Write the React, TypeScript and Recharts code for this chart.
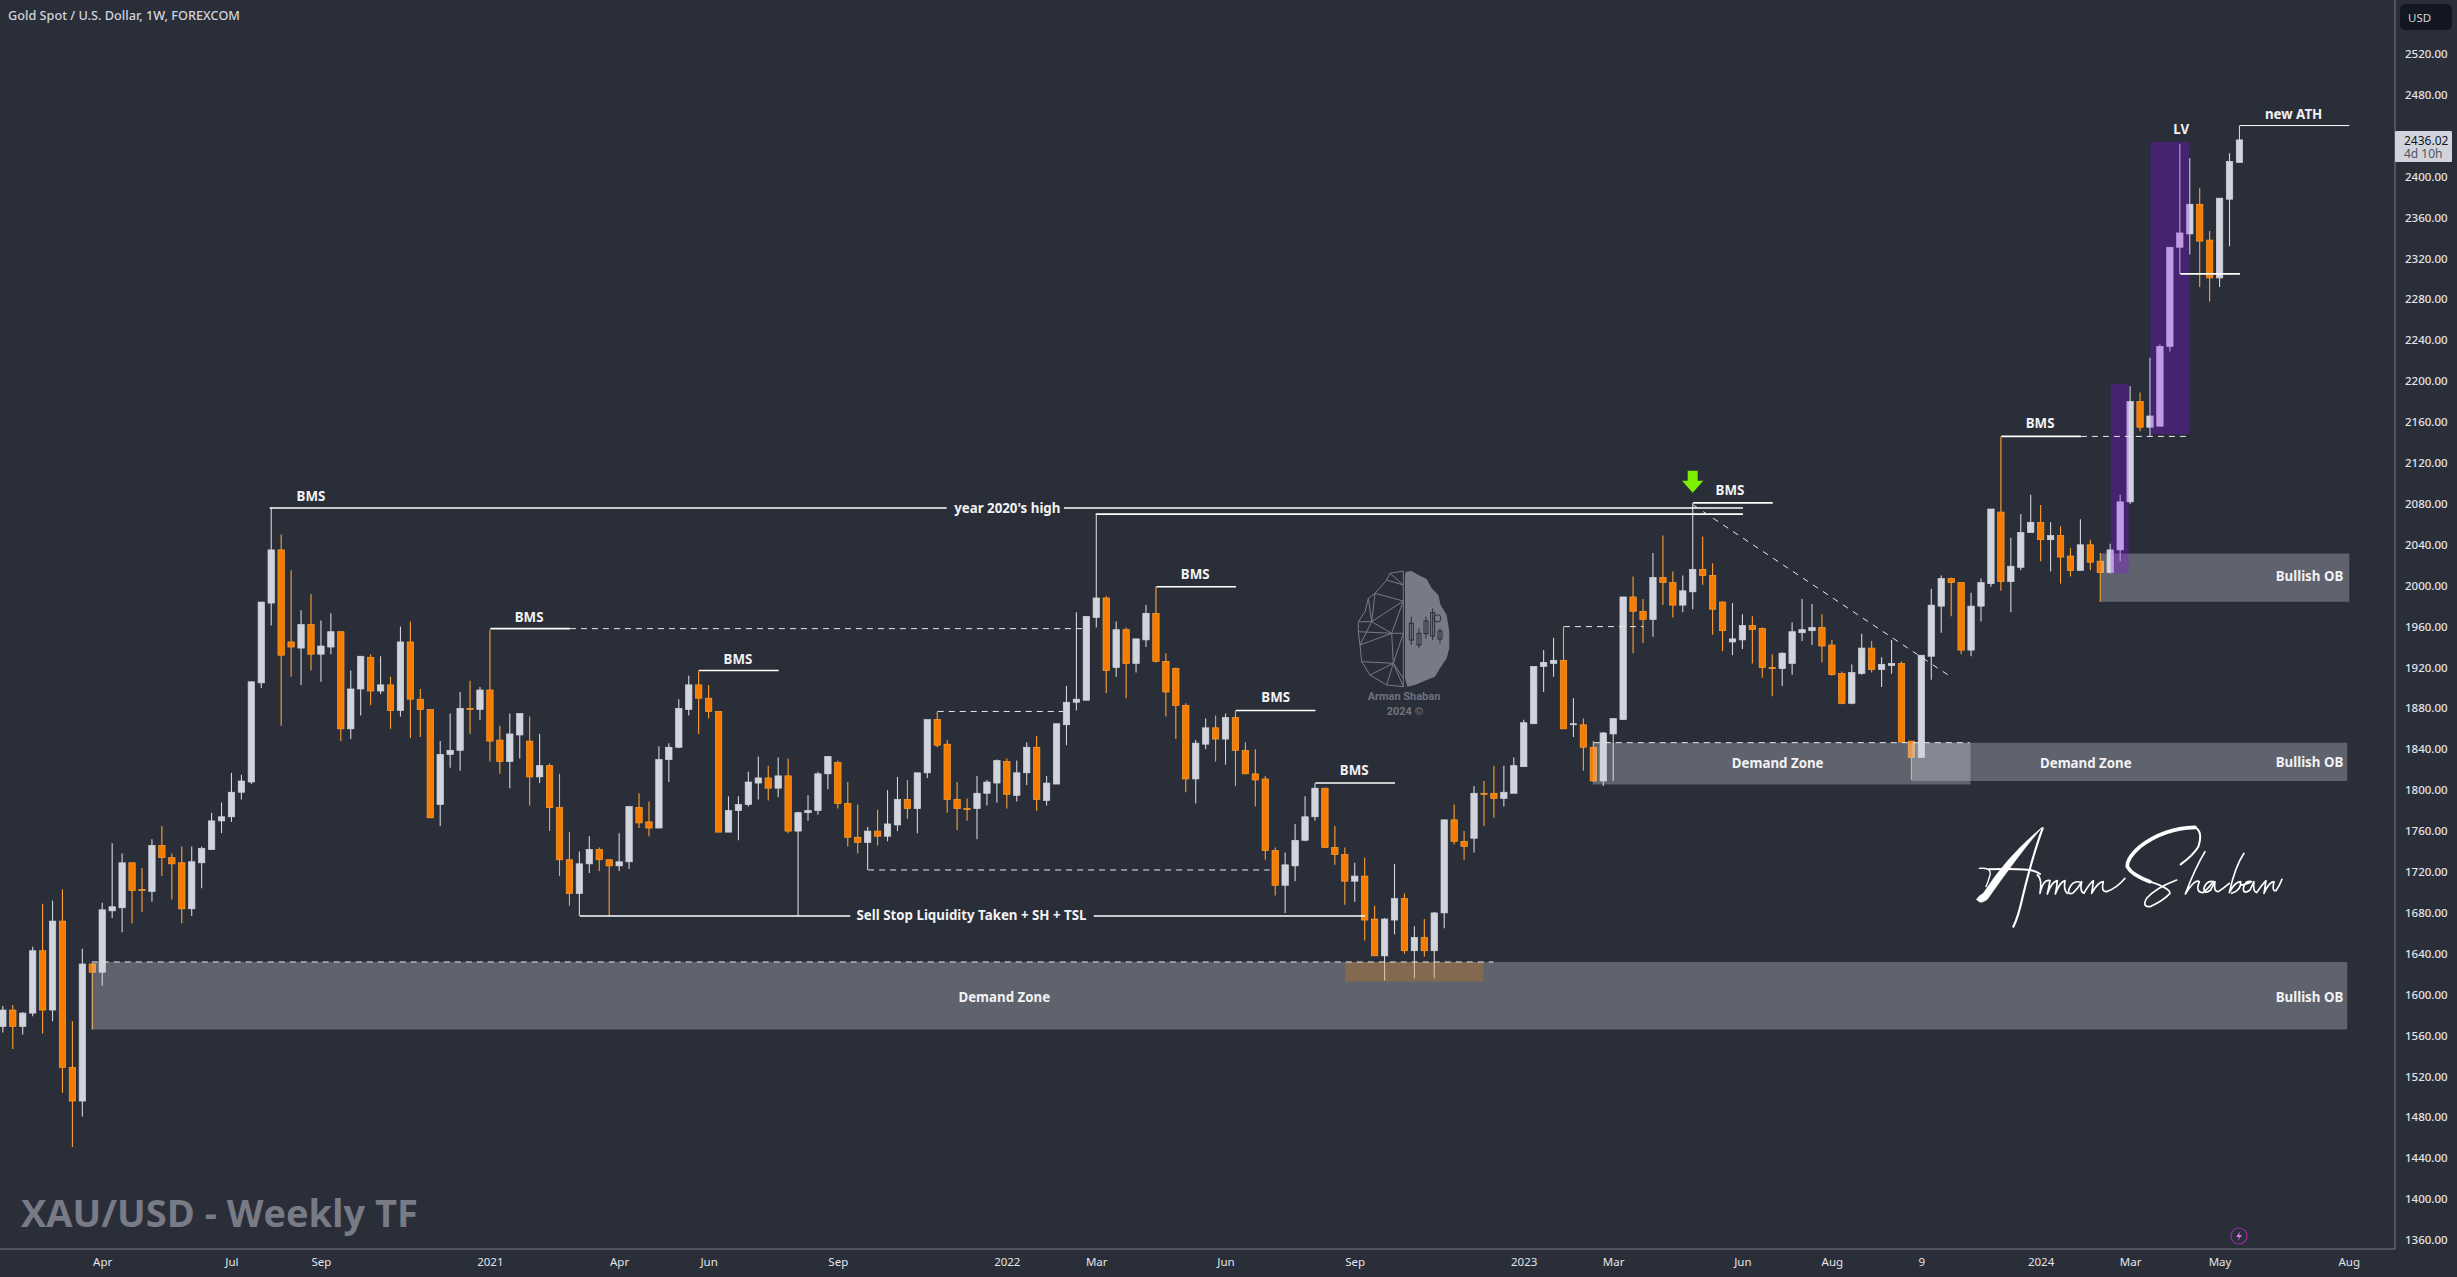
import React from 'react';
import { ComposedChart, Bar, XAxis, YAxis, ReferenceArea, ReferenceLine, ReferenceDot } from 'recharts';

const BG = '#2a2e39';
const UP = '#d1d4dc';
const DOWN = '#f57c00';
const DOWN_EDGE = '#ffa033';
const AXIS = '#787b86';
const FONT = '"Noto Sans", sans-serif';

// weekly candles, first week is Jan 20 2020
const opens = [
  1569, 1585, 1569, 1582, 1643, 1585, 1672, 1529, 1496, 1630, 1622, 1682, 1685, 1729, 1703, 1701, 1746, 1734, 1729, 1684,
  1729, 1742, 1770, 1774, 1798, 1808, 1905, 1983, 2035, 1945, 1939, 1962, 1933, 1940, 1955, 1860, 1899, 1930, 1897, 1903,
  1878, 1945, 1889, 1879, 1786, 1835, 1839, 1880, 1879, 1898, 1849, 1828, 1854, 1848, 1813, 1824, 1783, 1732, 1699, 1728,
  1742, 1732, 1726, 1730, 1783, 1769, 1763, 1830, 1842, 1879, 1903, 1890, 1877, 1759, 1780, 1786, 1807, 1812, 1802, 1814,
  1760, 1778, 1780, 1816, 1827, 1787, 1754, 1749, 1760, 1755, 1766, 1791, 1782, 1817, 1869, 1845, 1791, 1782, 1782, 1797,
  1807, 1828, 1795, 1817, 1842, 1790, 1806, 1864, 1886, 1888, 1969, 1988, 1920, 1957, 1924, 1947, 1973, 1926, 1919, 1883,
  1811, 1845, 1861, 1850, 1871, 1839, 1816, 1811, 1741, 1707, 1726, 1751, 1774, 1802, 1744, 1737, 1711, 1716, 1674, 1638,
  1673, 1694, 1643, 1656, 1643, 1680, 1771, 1750, 1753, 1797, 1797, 1792, 1797, 1823, 1865, 1921, 1924, 1927, 1864, 1864,
  1842, 1809, 1855, 1869, 1989, 1975, 1967, 2008, 2003, 1981, 1994, 2016, 2010, 1984, 1945, 1947, 1961, 1958, 1920, 1919,
  1924, 1954, 1956, 1959, 1942, 1914, 1885, 1914, 1939, 1918, 1922, 1924, 1848, 1832, 1931, 1980, 2007, 2003, 1937, 1980,
  2002, 2072, 2004, 2018, 2052, 2062, 2045, 2049, 2029, 2015, 2040, 2024, 2013, 2035, 2082, 2180, 2155, 2156, 2234, 2331,
  2344, 2373, 2338, 2301, 2378, 2414,
];
const highs = [
  1589, 1590, 1583, 1647, 1689, 1692, 1703, 1574, 1645, 1631, 1690, 1748, 1738, 1729, 1724, 1752, 1765, 1738, 1745, 1745,
  1745, 1778, 1788, 1817, 1815, 1906, 1984, 2076, 2050, 2015, 1976, 1992, 1966, 1973, 1955, 1917, 1931, 1933, 1931, 1911,
  1960, 1965, 1899, 1879, 1848, 1875, 1896, 1907, 1901, 1957, 1863, 1875, 1875, 1872, 1855, 1826, 1816, 1759, 1740, 1755,
  1744, 1732, 1758, 1784, 1797, 1789, 1843, 1846, 1889, 1912, 1917, 1903, 1877, 1794, 1794, 1818, 1833, 1824, 1832, 1831,
  1779, 1795, 1818, 1833, 1829, 1808, 1786, 1764, 1781, 1800, 1813, 1810, 1817, 1869, 1877, 1849, 1808, 1792, 1814, 1810,
  1830, 1831, 1829, 1847, 1853, 1814, 1865, 1902, 1974, 1970, 2070, 1990, 1965, 1959, 1948, 1981, 1999, 1934, 1920, 1885,
  1849, 1870, 1873, 1875, 1878, 1847, 1840, 1814, 1744, 1739, 1767, 1794, 1807, 1802, 1765, 1744, 1729, 1734, 1687, 1675,
  1728, 1699, 1667, 1674, 1681, 1771, 1786, 1760, 1804, 1809, 1824, 1824, 1832, 1869, 1921, 1937, 1949, 1960, 1890, 1870,
  1848, 1857, 1870, 1989, 2009, 1987, 2032, 2049, 2014, 2010, 2081, 2048, 2022, 1985, 1983, 1972, 1970, 1959, 1933, 1935,
  1964, 1987, 1982, 1972, 1947, 1916, 1923, 1953, 1946, 1930, 1947, 1926, 1848, 1932, 1997, 2010, 2008, 2003, 1993, 2007,
  2075, 2146, 2047, 2070, 2089, 2079, 2062, 2058, 2037, 2065, 2045, 2032, 2041, 2089, 2195, 2189, 2223, 2236, 2331, 2432,
  2418, 2389, 2347, 2379, 2423, 2450,
];
const lows = [
  1563, 1547, 1561, 1579, 1562, 1574, 1504, 1451, 1481, 1566, 1609, 1675, 1661, 1670, 1681, 1691, 1716, 1693, 1670, 1677,
  1704, 1742, 1758, 1769, 1791, 1806, 1900, 1961, 1863, 1911, 1903, 1917, 1906, 1933, 1848, 1850, 1873, 1883, 1894, 1860,
  1872, 1851, 1852, 1773, 1765, 1822, 1819, 1855, 1869, 1828, 1816, 1802, 1831, 1785, 1807, 1760, 1716, 1687, 1677, 1719,
  1721, 1677, 1721, 1723, 1763, 1755, 1763, 1808, 1841, 1873, 1855, 1870, 1759, 1759, 1751, 1784, 1791, 1790, 1793, 1758,
  1677, 1770, 1776, 1801, 1782, 1745, 1738, 1722, 1746, 1750, 1760, 1772, 1758, 1812, 1842, 1778, 1761, 1770, 1752, 1785,
  1788, 1782, 1789, 1805, 1780, 1785, 1806, 1844, 1878, 1888, 1959, 1895, 1911, 1890, 1915, 1940, 1925, 1872, 1850, 1798,
  1787, 1840, 1828, 1825, 1804, 1816, 1784, 1732, 1697, 1680, 1711, 1750, 1770, 1744, 1727, 1688, 1691, 1653, 1638, 1614,
  1659, 1640, 1616, 1637, 1616, 1665, 1747, 1732, 1739, 1765, 1773, 1784, 1797, 1823, 1865, 1896, 1911, 1860, 1852, 1819,
  1808, 1804, 1809, 1869, 1934, 1944, 1950, 1981, 1969, 1974, 1977, 2001, 1952, 1936, 1932, 1938, 1924, 1910, 1892, 1902,
  1913, 1946, 1942, 1925, 1912, 1884, 1884, 1913, 1915, 1901, 1914, 1847, 1810, 1832, 1908, 1954, 1970, 1933, 1931, 1965,
  1999, 1995, 1974, 2015, 2052, 2024, 2014, 2002, 2009, 2015, 2015, 1984, 2012, 2024, 2080, 2151, 2146, 2156, 2229, 2305,
  2324, 2292, 2278, 2292, 2332, 2414,
];
const closes = [
  1585, 1569, 1582, 1643, 1585, 1672, 1529, 1496, 1630, 1622, 1683, 1686, 1729, 1702, 1702, 1746, 1734, 1728, 1684, 1730,
  1743, 1770, 1774, 1798, 1809, 1906, 1984, 2035, 1932, 1940, 1962, 1933, 1941, 1955, 1860, 1899, 1931, 1897, 1903, 1878,
  1945, 1889, 1879, 1773, 1835, 1839, 1880, 1879, 1898, 1848, 1828, 1855, 1875, 1813, 1824, 1783, 1732, 1699, 1728, 1742,
  1732, 1726, 1730, 1784, 1768, 1763, 1830, 1842, 1880, 1903, 1890, 1877, 1759, 1780, 1786, 1808, 1812, 1802, 1814, 1760,
  1778, 1780, 1816, 1833, 1787, 1754, 1749, 1760, 1755, 1767, 1791, 1782, 1817, 1869, 1844, 1791, 1782, 1781, 1797, 1808,
  1829, 1796, 1817, 1842, 1791, 1807, 1865, 1886, 1889, 1970, 1988, 1917, 1957, 1924, 1948, 1973, 1926, 1896, 1883, 1811,
  1846, 1861, 1850, 1871, 1839, 1816, 1810, 1741, 1707, 1727, 1751, 1774, 1802, 1744, 1737, 1711, 1716, 1673, 1638, 1674,
  1694, 1643, 1656, 1643, 1680, 1771, 1750, 1745, 1797, 1796, 1792, 1798, 1824, 1866, 1921, 1925, 1927, 1860, 1865, 1842,
  1809, 1856, 1870, 1989, 1975, 1967, 2008, 2003, 1981, 1995, 2016, 2010, 1977, 1956, 1948, 1961, 1957, 1920, 1919, 1934,
  1955, 1957, 1959, 1941, 1913, 1885, 1915, 1939, 1918, 1923, 1924, 1847, 1832, 1932, 1981, 2007, 2003, 1937, 1980, 2003,
  2075, 2004, 2019, 2052, 2062, 2045, 2049, 2028, 2015, 2040, 2023, 2013, 2035, 2082, 2180, 2155, 2166, 2234, 2331, 2345,
  2373, 2337, 2301, 2379, 2415, 2436,
];

const tickWeeks = [11, 24, 33, 50, 63, 72, 85, 102, 111, 124, 137, 154, 163, 176, 185, 194, 206, 215, 224, 237];
const tickNames = ['Apr', 'Jul', 'Sep', '2021', 'Apr', 'Jun', 'Sep', '2022', 'Mar', 'Jun', 'Sep', '2023', 'Mar', 'Jun', 'Aug', '9', '2024', 'Mar', 'May', 'Aug'];
// 2440 sits behind the last price tag, so it is left out
const priceTicks = [
  1360, 1400, 1440, 1480, 1520, 1560, 1600, 1640, 1680, 1720, 1760, 1800, 1840, 1880, 1920, 1960, 2000, 2040, 2080, 2120,
  2160, 2200, 2240, 2280, 2320, 2360, 2400, 2480, 2520,
];

// [from week, to week, price]
const solidLevels = [
  [27.8, 95.9, 2076], [107.7, 176, 2076], [110.9, 176, 2070], [171, 179, 2081],
  [50, 58, 1958], [71, 79, 1917], [117, 125, 1999], [125, 133, 1878], [133, 141, 1807], [202, 210, 2146],
  [59, 86.2, 1677], [110.7, 138, 1677], [220, 226, 2305],
];
const thinLevels = [[226, 237, 2450]];
const dashedLevels = [
  [58, 110, 1958], [95, 107.6, 1877], [88, 128.4, 1722], [158, 166, 1960], [210, 220.7, 2146],
  [9.9, 150.9, 1632], [161, 198.8, 1846.5],
];
const trendLine = [[171, 2079], [196.9, 1911]];

// [from week, to week, top, bottom]
const greyZones = [
  [9.9, 236.8, 1632, 1566], [160.9, 198.9, 1846.5, 1805.5], [193, 236.8, 1846.5, 1809], [212, 237, 2031.6, 1984.4],
];
const purpleZones = [[213, 214.8, 2197, 2012], [217, 220.9, 2434, 2148]];
const brownZones = [[136, 149.9, 1632, 1613]];

// [text, week, price]
const notes: [string, number, number][] = [
  ['BMS', 31.95, 2087], ['BMS', 53.9, 1969], ['BMS', 74.9, 1928], ['BMS', 120.9, 2011], ['BMS', 129, 1891],
  ['BMS', 136.9, 1819], ['BMS', 174.7, 2093], ['BMS', 205.9, 2159],
  ["year 2020's high", 102, 2076], ['Sell Stop Liquidity Taken + SH + TSL', 98.4, 1677.5],
  ['Demand Zone', 101.7, 1597], ['Demand Zone', 179.5, 1826.5], ['Demand Zone', 210.5, 1826.5],
  ['Bullish OB', 233, 1597], ['Bullish OB', 233, 1827], ['Bullish OB', 233, 2009],
  ['LV', 220.1, 2446.5], ['new ATH', 231.4, 2461.5],
];

const candles = opens.map((open, i) => ({
  week: i + 1,
  open,
  high: highs[i],
  low: lows[i],
  close: closes[i],
  range: [lows[i], highs[i]],
}));

const Candle = (props: any) => {
  const { x, y, width, height, payload } = props;
  const { open, close, high, low } = payload;
  const cx = x + width / 2;
  const toY = (p: number) => y + ((high - p) / (high - low)) * height;
  const up = close >= open;
  const top = toY(Math.max(open, close));
  const bottom = toY(Math.min(open, close));
  return (
    <g>
      <line x1={cx} x2={cx} y1={y} y2={y + height} stroke={up ? UP : DOWN_EDGE} strokeWidth={1.1} />
      <rect
        x={cx - 3.2}
        y={top}
        width={6.4}
        height={Math.max(bottom - top, 1)}
        fill={up ? UP : DOWN}
        stroke={up ? UP : DOWN_EDGE}
        strokeWidth={0.7}
      />
    </g>
  );
};

const Watermark = () => (
  <g transform="translate(1350 565) scale(0.3333)" fill="none" stroke={AXIS} strokeWidth={3}>
    <path
      d="M168 20 L185 18 L205 30 L230 42 L245 70 L265 90 L272 120 L290 150 L298 200 L298 250 L290 280 L270 310 L255 335 L230 345 L195 360 L172 365 L165 340 L165 30 Z"
      fill={AXIS}
      stroke="none"
    />
    <path d="M160 18 L120 25 L110 45 L75 85 L55 100 L45 140 L25 170 L25 200 L30 240 L35 290 L60 330 L110 360 L160 365 Z" />
    <path d="M110 45 L160 60 M120 25 L160 60 M75 85 L160 108 M75 85 L65 170 M55 100 L65 170 M160 108 L65 170 L25 170 M65 170 L30 240 M65 170 L125 205 L160 205 M25 200 L125 205 M30 240 L125 205 M125 205 L130 295 M160 205 L130 295 M125 205 L160 108 M35 290 L130 295 L160 340 M60 330 L130 295 L110 360 M130 295 L160 365" />
    <g stroke={BG} fill="none">
      <path d="M184 155 L184 240 M207 190 L207 250 M228 155 L228 220 M248 130 L248 225 M270 190 L270 235" />
      <rect x={178} y={175} width={12} height={50} />
      <rect x={201} y={205} width={12} height={35} />
      <rect x={222} y={168} width={12} height={38} />
      <rect x={242} y={143} width={12} height={70} />
      <rect x={264} y={198} width={12} height={24} />
      <circle cx={262} cy={160} r={11} />
    </g>
    <text x={162} y={405} textAnchor="middle" fill="#6f727b" stroke="none" fontSize={33} fontWeight={700} fontFamily={'"Roboto", sans-serif'}>Arman Shaban</text>
    <text x={165} y={450} textAnchor="middle" fill="#6f727b" stroke="none" fontSize={33} fontWeight={700} fontFamily={'"Roboto", sans-serif'}>2024 ©</text>
  </g>
);

const Signature = () => (
  <g transform="translate(1950 810) scale(0.3333)" fill="none" stroke="#fff" strokeLinecap="round" strokeLinejoin="round">
    <path d="M80 268 Q85 258 100 250 Q170 140 275 53 Q205 135 112 268 Q90 286 80 268 Z" fill="#fff" strokeWidth={2} />
    <path d="M278 55 Q250 130 218 260 Q205 320 190 350" strokeWidth={6.5} />
    <path d="M88 175 Q125 172 120 195 Q115 215 108 230" strokeWidth={4} />
    <path d="M115 178 Q190 176 240 180 Q262 185 270 192" strokeWidth={6} />
    <path d="M262 195 Q277 205 270 250 Q280 205 300 212 Q296 235 292 252 Q305 215 322 212 Q320 235 316 252 Q330 215 345 212 Q340 240 352 250" strokeWidth={5} />
    <path d="M395 218 Q370 208 358 235 Q350 258 370 248 Q385 235 395 215 Q388 245 402 250 Q415 225 430 212 Q428 235 425 250 Q445 215 460 215 Q452 245 470 245 Q500 235 525 205" strokeWidth={5} />
    <path d="M735 52 Q640 55 570 110 Q530 145 532 170 Q545 195 600 215" strokeWidth={11} />
    <path d="M600 215 Q660 235 660 250 Q640 272 600 290 Q575 290 590 265 Q615 235 680 210" strokeWidth={5} />
    <path d="M735 52 Q760 65 745 110 Q730 135 692 163" strokeWidth={6} />
    <path d="M765 125 Q735 175 706 252 Q735 205 748 215 Q735 248 760 248 Q775 235 790 215 Q770 210 762 235 Q762 255 782 240 L795 215 Q790 245 805 245 Q820 235 838 220" strokeWidth={5} />
    <path d="M882 130 Q855 170 838 248 Q855 215 872 215 Q875 240 845 250 M872 225 Q890 225 905 215 Q885 210 880 235 Q880 255 900 240 L912 215 Q908 245 920 248 Q935 225 948 212 Q945 235 942 250 Q958 215 972 215 Q965 245 978 242 Q990 225 996 208" strokeWidth={5} />
  </g>
);

const Overlay = () => (
  <svg width={2457} height={1277} style={{ position: 'absolute', left: 0, top: 0, pointerEvents: 'none' }}>
    <text x={8} y={20} fontSize={12.7} fontWeight={500} fill={UP} fontFamily={FONT}>Gold Spot / U.S. Dollar, 1W, FOREXCOM</text>
    <text x={21} y={1227} fontSize={38} fontWeight={700} fill={AXIS} fontFamily={'"Open Sans", sans-serif'}>XAU/USD - Weekly TF</text>
    <rect x={2400} y={4} width={52} height={26} rx={5} fill="#131722" />
    <text x={2408} y={22} fontSize={11.5} fill={UP} fontFamily={FONT}>USD</text>
    <rect x={2395} y={131} width={57} height={31} rx={1} fill={UP} />
    <text x={2404} y={145} fontSize={12} fill="#131722" fontFamily={FONT}>2436.02</text>
    <text x={2404} y={158} fontSize={12} fill="#50535e" fontFamily={FONT}>4d 10h</text>
    <polygon points="1687.7,470.7 1697.7,470.7 1697.7,480.7 1703.3,480.7 1692.7,492.7 1682,480.7 1687.7,480.7" fill="#7cf000" />
    <circle cx={2239} cy={1236} r={8} fill="none" stroke="#9c27b0" strokeWidth={1.2} />
    <polygon points="2240.5,1231 2236,1237 2239,1237 2237.5,1241 2242,1235 2239,1235" fill="#d67be8" />
    <Watermark />
    <Signature />
  </svg>
);

const App = () => (
  <div style={{ position: 'absolute', left: 0, top: 0, width: 2457, height: 1277, background: BG, fontFamily: FONT, overflow: 'hidden' }}>
    <ComposedChart width={2457} height={1277} data={candles} margin={{ top: 0, right: 0, bottom: 0, left: 0 }}>
      <XAxis
        dataKey="week"
        type="number"
        domain={[0.668, 241.6]}
        allowDataOverflow
        ticks={tickWeeks}
        interval={0}
        height={28}
        tickLine={false}
        axisLine={{ stroke: AXIS }}
        tick={{ fill: '#e3e4e8', fontSize: 11.5 }}
        tickMargin={3}
        tickFormatter={(w: number) => tickNames[tickWeeks.indexOf(w)]}
      />
      <YAxis
        orientation="right"
        type="number"
        domain={[1351.3, 2572.8]}
        allowDataOverflow
        ticks={priceTicks}
        interval={0}
        width={62}
        tickLine={false}
        axisLine={{ stroke: AXIS }}
        tick={{ fill: '#e3e4e8', fontSize: 11.5, fontWeight: 500 }}
        tickMargin={4}
        tickFormatter={(p: number) => p.toFixed(2)}
      />
      <Bar dataKey="range" barSize={7} shape={Candle} isAnimationActive={false} />
      {greyZones.map(([x1, x2, y1, y2], i) => (
        <ReferenceArea key={`grey-${i}`} x1={x1} x2={x2} y1={y1} y2={y2} fill={UP} fillOpacity={0.32} stroke="none" zIndex={350} />
      ))}
      {brownZones.map(([x1, x2, y1, y2], i) => (
        <ReferenceArea key={`brown-${i}`} x1={x1} x2={x2} y1={y1} y2={y2} fill={DOWN} fillOpacity={0.25} stroke="none" zIndex={350} />
      ))}
      {purpleZones.map(([x1, x2, y1, y2], i) => (
        <ReferenceArea key={`purple-${i}`} x1={x1} x2={x2} y1={y1} y2={y2} fill="#9306ff" fillOpacity={0.275} stroke="none" zIndex={350} />
      ))}
      {solidLevels.map(([a, b, p], i) => (
        <ReferenceLine key={`solid-${i}`} segment={[{ x: a, y: p }, { x: b, y: p }]} stroke="#fff" strokeWidth={1.6} />
      ))}
      {thinLevels.map(([a, b, p], i) => (
        <ReferenceLine key={`thin-${i}`} segment={[{ x: a, y: p }, { x: b, y: p }]} stroke="#fff" strokeWidth={1} />
      ))}
      {dashedLevels.map(([a, b, p], i) => (
        <ReferenceLine key={`dash-${i}`} segment={[{ x: a, y: p }, { x: b, y: p }]} stroke="#e8e8ea" strokeWidth={1} strokeDasharray="6 5" />
      ))}
      <ReferenceLine
        segment={[{ x: trendLine[0][0], y: trendLine[0][1] }, { x: trendLine[1][0], y: trendLine[1][1] }]}
        stroke="#e8e8ea"
        strokeWidth={1}
        strokeDasharray="6 6"
      />
      {notes.map(([text, week, price], i) => (
        <ReferenceDot
          key={`note-${i}`}
          x={week}
          y={price}
          r={0}
          stroke="none"
          label={{ value: text, position: 'center', fill: '#f2f2f4', fontSize: 13.3, fontWeight: 700 }}
        />
      ))}
    </ComposedChart>
    <Overlay />
  </div>
);

export default App;
